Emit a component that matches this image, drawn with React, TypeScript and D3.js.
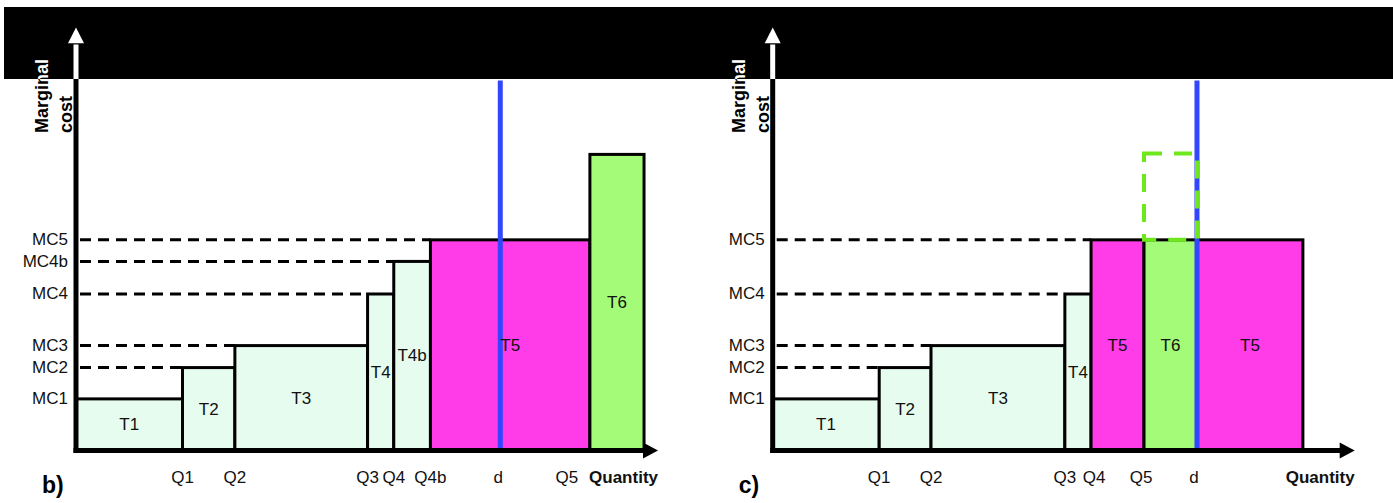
import React from "react";
import * as d3 from "d3";

// ---------- Panel b) data ----------
const mcLabelsB = ["MC1", "MC2", "MC3", "MC4", "MC4b", "MC5"];
const mcValuesB = [12.2, 19.6, 24.8, 37.0, 44.7, 49.8];
const qLabelsB = ["Q1", "Q2", "Q3", "Q4", "Q4b", "d", "Q5"];
const qValuesB = [18.3, 27.3, 50.1, 54.6, 60.9, 72.9, 88.3];
const blockNamesB = ["T1", "T2", "T3", "T4", "T4b", "T5", "T6"];
const blockStartB = [0, 18.3, 27.3, 50.1, 54.6, 60.9, 88.3];
const blockEndB = [18.3, 27.3, 50.1, 54.6, 60.9, 88.3, 97.6];
const blockCostB = [12.2, 19.6, 24.8, 37.0, 44.7, 49.8, 70.0];
const blockTypeB = ["base", "base", "base", "base", "base", "peak", "green"];
const demandB = 72.9;

// ---------- Panel c) data ----------
const mcLabelsC = ["MC1", "MC2", "MC3", "MC4", "MC5"];
const mcValuesC = [12.2, 19.6, 24.8, 37.0, 49.8];
const qLabelsC = ["Q1", "Q2", "Q3", "Q4", "Q5", "d"];
const qValuesC = [18.3, 27.2, 50.2, 54.7, 63.8, 72.9];
const blockNamesC = ["T1", "T2", "T3", "T4", "T5", "T6", "T5"];
const blockStartC = [0, 18.3, 27.2, 50.2, 54.7, 63.8, 72.9];
const blockEndC = [18.3, 27.2, 50.2, 54.7, 63.8, 72.9, 91.1];
const blockCostC = [12.2, 19.6, 24.8, 37.0, 49.8, 49.8, 49.8];
const blockTypeC = ["base", "base", "base", "base", "peak", "green", "peak"];
const demandC = 72.9;
const ghostBoxC = { q0: 63.8, q1: 72.9, c0: 49.8, c1: 70.2 };

const demandTop = 87.5;

const W = 1393;
const H = 503;
const FONT = "'Liberation Sans', Arial, Helvetica, sans-serif";
const fills: Record<string, string> = {
  base: "#e6fcee",
  peak: "#ff3ce8",
  green: "#a4fb78",
};
const BAND = { x: 4, y: 7, w: W - 4, h: 72 };

type PanelProps = {
  originX: number;
  letter: string;
  mcLabels: string[];
  mcValues: number[];
  qLabels: string[];
  qValues: number[];
  names: string[];
  starts: number[];
  ends: number[];
  costs: number[];
  types: string[];
  demand: number;
  ghost?: { q0: number; q1: number; c0: number; c1: number };
  qLabelShift?: Record<string, number>;
  overlay?: boolean;
};

function Panel(p: PanelProps) {
  const x = d3.scaleLinear().domain([0, 100]).range([p.originX, p.originX + 582]);
  const y = d3.scaleLinear().domain([0, 100]).range([450.5, 27.5]);
  const ax = x(0);
  const tipX = x(100);
  const ink = p.overlay ? "#fff" : "#000";

  const axes = (
    <g>
      <line x1={ax} x2={ax} y1={y(0) + 2.5} y2={y(96)} stroke={ink} strokeWidth={5} />
      <polygon points={`${ax},${y(100)} ${ax - 8},${y(96.3)} ${ax + 8},${y(96.3)}`} fill={ink} />
      <line x1={ax - 2.5} x2={tipX - 14} y1={y(0)} y2={y(0)} stroke={ink} strokeWidth={5} />
      <polygon points={`${tipX},${y(0)} ${tipX - 15},${y(0) - 8} ${tipX - 15},${y(0) + 8}`} fill={ink} />
    </g>
  );
  const yTitle = (
    <g fontFamily={FONT} fontWeight="bold" fontSize={18} fill={ink}>
      <text transform={`translate(${ax - 28},133) rotate(-90)`}>Marginal</text>
      <text transform={`translate(${ax - 4},133) rotate(-90)`}>cost</text>
    </g>
  );

  if (p.overlay) {
    return (
      <g>
        {axes}
        {yTitle}
      </g>
    );
  }

  const dashLines = p.mcValues.map((v, i) => {
    const idx = p.costs.findIndex((c) => c === v);
    const end = idx >= 0 ? p.starts[idx] : 0;
    if (end <= 0) return null;
    return (
      <line key={"dl" + i} x1={ax + 4} x2={x(end)} y1={y(v)} y2={y(v)} stroke="#000" strokeWidth={3} strokeDasharray="11 7" />
    );
  });

  return (
    <g>
      {p.names.map((n, i) => (
        <rect
          key={"r" + i}
          x={x(p.starts[i])}
          y={y(p.costs[i])}
          width={x(p.ends[i]) - x(p.starts[i])}
          height={y(0) - y(p.costs[i])}
          fill={fills[p.types[i]]}
          stroke="#000"
          strokeWidth={3}
        />
      ))}
      {dashLines}
      <line x1={x(p.demand)} x2={x(p.demand)} y1={y(demandTop)} y2={y(0) - 2} stroke="#3246ff" strokeWidth={5} />
      {p.ghost && (
        <rect
          x={x(p.ghost.q0)}
          y={y(p.ghost.c1)}
          width={x(p.ghost.q1) - x(p.ghost.q0)}
          height={y(p.ghost.c0) - y(p.ghost.c1)}
          fill="none"
          stroke="#6ee81c"
          strokeWidth={4}
          strokeDasharray="18 12"
        />
      )}
      {axes}
      <g fontFamily={FONT} fontSize={17} fill="#111">
        {p.names.map((n, i) => (
          <text
            key={"t" + i}
            x={(x(p.starts[i]) + x(p.ends[i])) / 2}
            y={(y(p.costs[i]) + y(0)) / 2}
            textAnchor="middle"
            dominantBaseline="central"
          >
            {n}
          </text>
        ))}
        {p.mcLabels.map((l, i) => (
          <text key={"m" + i} x={ax - 8} y={y(p.mcValues[i])} textAnchor="end" dominantBaseline="central">
            {l}
          </text>
        ))}
        {p.qLabels.map((l, i) => (
          <text key={"q" + i} x={x(p.qValues[i]) + ((p.qLabelShift && p.qLabelShift[l]) || 0)} y={483} textAnchor="middle">
            {l}
          </text>
        ))}
        <text x={tipX} y={483} textAnchor="end" fontWeight="bold">
          Quantity
        </text>
      </g>
      <text x={ax - 34} y={493} fontFamily={FONT} fontWeight="bold" fontSize={23} fill="#000">
        {p.letter}
      </text>
      {yTitle}
    </g>
  );
}

export default function App() {
  const panelB = {
    originX: 76,
    letter: "b)",
    mcLabels: mcLabelsB,
    mcValues: mcValuesB,
    qLabels: qLabelsB,
    qValues: qValuesB,
    names: blockNamesB,
    starts: blockStartB,
    ends: blockEndB,
    costs: blockCostB,
    types: blockTypeB,
    demand: demandB,
    qLabelShift: { Q5: -23, d: -2 },
  };
  const panelC = {
    originX: 772.7,
    letter: "c)",
    mcLabels: mcLabelsC,
    mcValues: mcValuesC,
    qLabels: qLabelsC,
    qValues: qValuesC,
    names: blockNamesC,
    starts: blockStartC,
    ends: blockEndC,
    costs: blockCostC,
    types: blockTypeC,
    demand: demandC,
    ghost: ghostBoxC,
    qLabelShift: { Q5: -3, d: -3, Q4: 3 },
  };
  return (
    <svg width={W} height={H} style={{ position: "absolute", left: 0, top: 0, background: "#fff" }}>
      <defs>
        <clipPath id="bandClip">
          <rect x={BAND.x} y={BAND.y} width={BAND.w} height={BAND.h} />
        </clipPath>
      </defs>
      <rect x={0} y={0} width={W} height={H} fill="#fff" />
      <Panel {...panelB} />
      <Panel {...panelC} />
      <rect x={BAND.x} y={BAND.y} width={BAND.w} height={BAND.h} fill="#000" />
      <g clipPath="url(#bandClip)">
        <Panel {...panelB} overlay />
        <Panel {...panelC} overlay />
      </g>
    </svg>
  );
}
